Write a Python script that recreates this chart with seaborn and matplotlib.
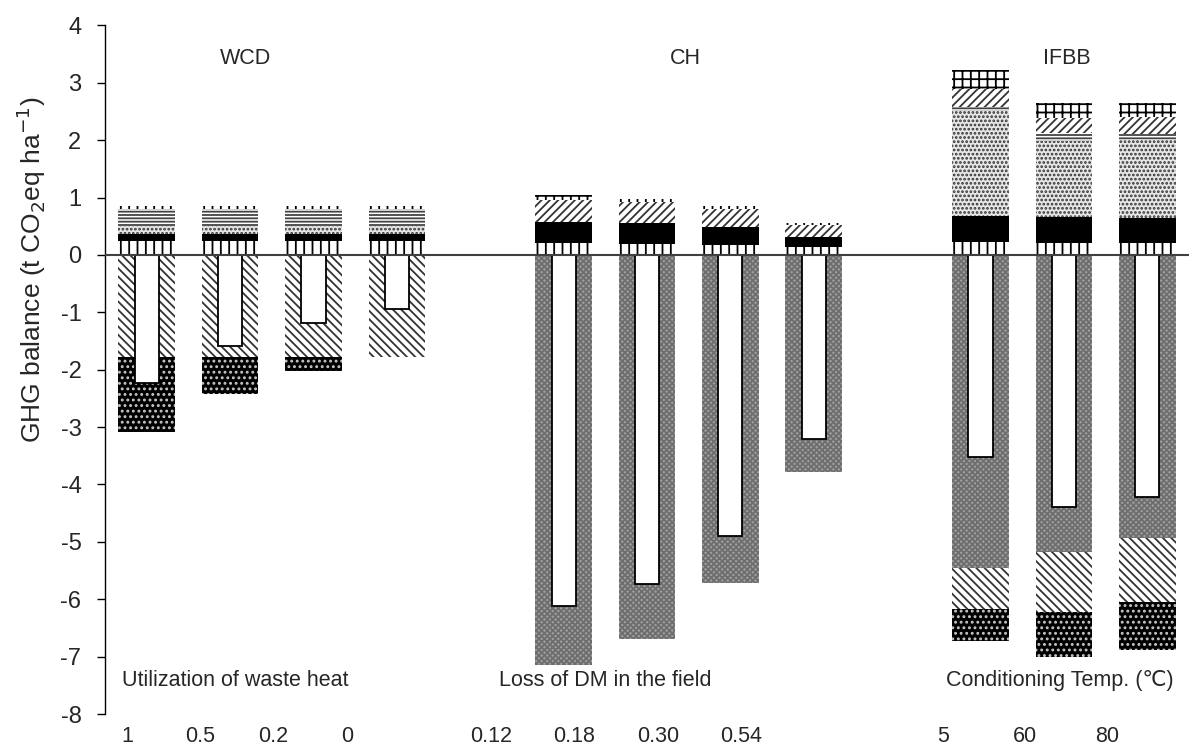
import numpy as np
import pandas as pd
import matplotlib
matplotlib.use("Agg")
import matplotlib.pyplot as plt
import seaborn as sns

# ---------------- data (t CO2eq ha-1) ----------------
scenarios = ["WCD 1", "WCD 0.5", "WCD 0.2", "WCD 0",
             "CH 0.12", "CH 0.18", "CH 0.30", "CH 0.54",
             "IFBB 5", "IFBB 60", "IFBB 80"]
slot_order = ["WCD 1", "WCD 0.5", "WCD 0.2", "WCD 0", "gap1",
              "CH 0.12", "CH 0.18", "CH 0.30", "CH 0.54", "gap2",
              "IFBB 5", "IFBB 60", "IFBB 80"]

# positive contributions, bottom to top (layer thickness)
pos_vertical = [0.24, 0.24, 0.24, 0.24, 0.21, 0.19, 0.17, 0.13, 0.22, 0.21, 0.21]
pos_black    = [0.13, 0.13, 0.13, 0.13, 0.37, 0.37, 0.32, 0.19, 0.465, 0.46, 0.43]
pos_dots     = [0.13, 0.13, 0.13, 0.13, 0.00, 0.00, 0.00, 0.00, 1.825, 1.32, 1.36]
pos_hlines   = [0.30, 0.30, 0.30, 0.30, 0.00, 0.00, 0.00, 0.00, 0.06, 0.13, 0.10]
pos_diag     = [0.00, 0.00, 0.00, 0.00, 0.38, 0.37, 0.31, 0.20, 0.33, 0.27, 0.30]
pos_grid     = [0.05, 0.05, 0.05, 0.05, 0.08, 0.04, 0.05, 0.04, 0.32, 0.26, 0.25]

# negative contributions (credits), from zero downward
neg_checker  = [0.00, 0.00, 0.00, 0.00, -7.15, -6.70, -5.72, -3.78, -5.45, -5.17, -4.93]
neg_diag     = [-1.78, -1.78, -1.78, -1.78, 0.00, 0.00, 0.00, 0.00, -0.72, -1.06, -1.12]
neg_blackdot = [-1.30, -0.65, -0.25, 0.00, 0.00, 0.00, 0.00, 0.00, -0.56, -0.77, -0.83]

# net GHG balance (white inner bar)
net_balance = [-2.23, -1.58, -1.18, -0.94, -6.12, -5.73, -4.90, -3.20, -3.52, -4.40, -4.22]

group_names = ["WCD", "CH", "IFBB"]
param_titles = ["Utilization of waste heat", "Loss of DM in the field", "Conditioning Temp. (\u2103)"]
param_values = ["1", "0.5", "0.2", "0", "0.12", "0.18", "0.30", "0.54", "5", "60", "80"]

# ---------------- styles ----------------
pos_styles = [
    dict(facecolor="white", hatch="||", edgecolor="black"),
    dict(facecolor="black", hatch=None, edgecolor="black"),
    dict(facecolor="#e6e6e6", hatch="....", edgecolor="#333333"),
    dict(facecolor="white", hatch="-----", edgecolor="#444444"),
    dict(facecolor="white", hatch="////", edgecolor="#333333"),
    dict(facecolor="white", hatch="++", edgecolor="black"),
]
neg_styles = [
    dict(facecolor="#a0a0a0", hatch="xxxxxx", edgecolor="#6e6e6e"),
    dict(facecolor="white", hatch="\\\\\\\\", edgecolor="#333333"),
    dict(facecolor="black", hatch="...", edgecolor="#c8c8c8"),
]

plt.rcParams["hatch.linewidth"] = 1.3
sns.set_style("white")
plt.rcParams["font.family"] = ["Liberation Sans", "DejaVu Sans"]
plt.rcParams["axes.unicode_minus"] = False

fig = plt.figure(figsize=(11.92, 7.54), dpi=100)
ax = fig.add_axes([0.0881, 0.053, 0.9094, 0.9133])

pos_stack = np.array([pos_vertical, pos_black, pos_dots, pos_hlines, pos_diag, pos_grid])
neg_stack = np.array([neg_checker, neg_diag, neg_blackdot])
pos_cum = np.cumsum(pos_stack, axis=0)
neg_cum = np.cumsum(neg_stack, axis=0)

def draw(values, width, **kw):
    df = pd.DataFrame({"scenario": scenarios, "value": values})
    sns.barplot(data=df, x="scenario", y="value", order=slot_order, ax=ax,
                width=width, errorbar=None, **kw)

# draw from outermost layer inward so inner layers overpaint
for i in reversed(range(len(pos_styles))):
    draw(pos_cum[i], 0.68, linewidth=0, **pos_styles[i])
for i in reversed(range(len(neg_styles))):
    draw(neg_cum[i], 0.68, linewidth=0, **neg_styles[i])
draw(net_balance, 0.29, facecolor="white", edgecolor="black", linewidth=1.3)

ax.axhline(0, color="#404040", lw=1.5, zorder=10)

ax.set_ylim(-8, 4)
ax.set_xlim(-0.5, 12.5)
ax.set_yticks(range(-8, 5))
ax.set_xticks([])
ax.set_xlabel("")
ax.set_ylabel("GHG balance (t CO$_2$eq ha$^{-1}$)", fontsize=19)
ax.yaxis.set_label_coords(-0.053, 0.645)
ax.tick_params(axis="y", direction="out", length=6, width=1, color="black",
               labelsize=17, pad=11, left=True)
for s in ["top", "right", "bottom"]:
    ax.spines[s].set_visible(False)
ax.spines["left"].set_color("black")
ax.spines["left"].set_linewidth(1)

# group names
for name, xp in zip(group_names, [1.18, 6.46, 11.04]):
    ax.text(xp, 3.42, name, ha="center", va="center", fontsize=15.5)
# parameter titles
for t, xp in zip(param_titles, [1.06, 5.50, 10.95]):
    ax.text(xp, -7.42, t, ha="center", va="center", fontsize=15.5, clip_on=False)
# parameter values
for v, xp in zip(param_values, [-0.23, 0.64, 1.52, 2.40, 4.13, 5.13, 6.13, 7.13, 9.55, 10.53, 11.52]):
    ax.text(xp, -8.40, v, ha="center", va="center", fontsize=15.5, clip_on=False)

fig.savefig("out.png", dpi=100)
